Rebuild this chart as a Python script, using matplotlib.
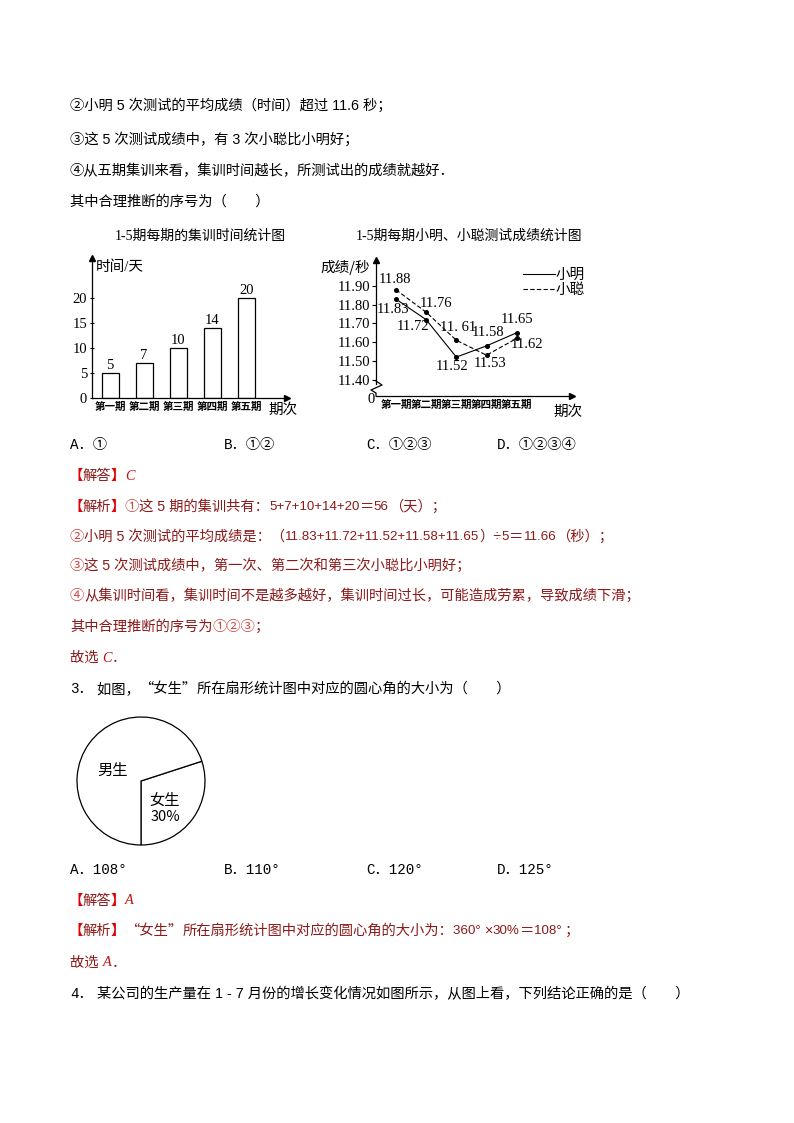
import matplotlib
matplotlib.use('Agg')
import matplotlib.pyplot as plt

# 数据
periods = ['第一期', '第二期', '第三期', '第四期', '第五期']
train_days = [5, 7, 10, 14, 20]
ming = [11.83, 11.72, 11.52, 11.58, 11.65]
cong = [11.88, 11.76, 11.61, 11.53, 11.62]
ming_text = ['11.83', '11.72', '11.52', '11.58', '11.65']
cong_text = ['11.88', '11.76', '11. 61', '11.53', '11.62']
score_ticks = [11.40, 11.50, 11.60, 11.70, 11.80, 11.90]
gender = ['女生', '男生']
share = [30, 70]

W, H = 794, 1123
fig = plt.figure(figsize=(W / 100, H / 100), dpi=100)
fig.patch.set_facecolor('white')
rend = fig.canvas.get_renderer()

CJK = ['Noto Sans CJK SC', 'DejaVu Sans']
MONO = ['Liberation Mono', 'Noto Sans CJK SC']
SANS = ['Liberation Sans', 'Noto Sans CJK SC']
SERIF = ['Liberation Serif', 'Noto Sans CJK SC']

BLACK = '#000000'
DARK = '#8B1A1A'
BRIGHT = '#E00000'
LIGHT = '#D04848'
ITAL = '#C01010'
FS = 10.3


def fx(x):
    return x / W


def fy(y):
    return 1 - y / H


def put(x, y, parts):
    # 一行里多段不同颜色的文字，依次排开
    for p in parts:
        s, color = p[0], p[1]
        kw = dict(family=SANS, fontsize=FS)
        if len(p) > 2:
            kw.update(p[2])
        t = fig.text(fx(x), fy(y), s, color=color, va='center', ha='left', **kw)
        x += t.get_window_extent(rend).width


BOLD = dict(fontweight='bold', family=CJK)
IT = dict(style='italic', family=['Liberation Serif'])
NUM = dict(family=SANS, fontsize=9.6)
MN = dict(family=MONO)
ZH = dict(family=CJK)


def head(word):
    return [('【', BRIGHT, BOLD), (word, DARK, ZH), ('】', BRIGHT, BOLD)]


# 题干
put(70, 106, [('②小明 5 次测试的平均成绩（时间）超过 11.6 秒；', BLACK)])
put(70, 140, [('③这 5 次测试成绩中，有 3 次小聪比小明好；', BLACK)])
put(70, 171, [('④从五期集训来看，集训时间越长，所测试出的成绩就越好．', BLACK)])
put(70, 202, [('其中合理推断的序号为（　　）', BLACK)])

# 条形图
ax1 = fig.add_axes([fx(92), fy(398), 195 / W, 140 / H])
bars = ax1.bar(range(len(train_days)), train_days, width=0.5, color='white',
               edgecolor='black', linewidth=0.9)
ax1.bar_label(bars, padding=1, fontsize=10.5, family=SERIF)
ax1.set_xlim(-0.53, 5.2)
ax1.set_ylim(0, 28)
ax1.set_yticks([0, 5, 10, 15, 20])
ax1.set_xticks(range(len(periods)))
ax1.set_xticklabels(periods, fontsize=7.6, fontweight='bold', family=CJK)
ax1.tick_params(axis='x', length=0, pad=3)
ax1.tick_params(axis='y', length=3, direction='inout', labelsize=10.5, pad=2)
for lb in ax1.get_yticklabels():
    lb.set_family(SERIF)
for s in ['top', 'right']:
    ax1.spines[s].set_visible(False)
for s in ['left', 'bottom']:
    ax1.spines[s].set_linewidth(0.9)
ax1.plot([1], [0], marker='>', ms=5, color='k', transform=ax1.transAxes, clip_on=False)
ax1.plot([0], [1], marker='^', ms=5, color='k', transform=ax1.transAxes, clip_on=False)
fig.text(fx(200), fy(236), '1-5期每期的集训时间统计图', ha='center', va='center',
         fontsize=10, family=SERIF)
fig.text(fx(96), fy(267), '时间/天', ha='left', va='center', fontsize=10.5, family=SERIF)
fig.text(fx(268), fy(410), '期次', ha='left', va='center', fontsize=10.5, family=CJK)

# 折线图
ax2 = fig.add_axes([fx(376), fy(396), 196 / W, 136 / H])
xs = range(len(ming))
l1, = ax2.plot(xs, ming, color='k', lw=0.8)
l2, = ax2.plot(xs, cong, color='k', lw=0.8, dashes=(4, 2))
ax2.plot(xs, ming, 'o', ms=2.6, color='k')
ax2.plot(xs, cong, 'o', ms=2.6, color='k')
ax2.set_xlim(-0.66, 5.83)
ax2.set_ylim(11.312, 12.039)
ax2.set_yticks(score_ticks)
ax2.set_yticklabels(['%.2f' % v for v in score_ticks], family=SERIF)
ax2.tick_params(axis='y', length=3, direction='out', labelsize=10.5, pad=1)
ax2.set_xticks(list(xs))
ax2.set_xticklabels(periods, fontsize=7.6, fontweight='bold', family=CJK)
ax2.tick_params(axis='x', length=0, pad=3)
for s in ['top', 'right']:
    ax2.spines[s].set_visible(False)
ax2.spines['left'].set_bounds(11.375, 12.039)
for s in ['left', 'bottom']:
    ax2.spines[s].set_linewidth(0.9)
ax2.plot([1], [0], marker='>', ms=5, color='k', transform=ax2.transAxes, clip_on=False)
ax2.plot([0], [1], marker='^', ms=5, color='k', transform=ax2.transAxes, clip_on=False)
zig_px = [(376, 381), (382, 385), (371, 390), (376, 393), (376, 396)]
ax2.plot([(p[0] - 376) / 196 for p in zig_px], [(396 - p[1]) / 136 for p in zig_px],
         color='k', lw=0.9, transform=ax2.transAxes, clip_on=False)

ming_off = [(-3, -10), (-13, -7), (-4, -9), (1, 13), (0, 13)]
cong_off = [(-1, 10), (10, 9), (2, 13), (4, -8), (10, -6)]
for i in xs:
    ax2.annotate(ming_text[i], (i, ming[i]), xytext=ming_off[i], textcoords='offset pixels',
                 ha='center', va='center', fontsize=10.5, family=SERIF)
    ax2.annotate(cong_text[i], (i, cong[i]), xytext=cong_off[i], textcoords='offset pixels',
                 ha='center', va='center', fontsize=10.5, family=SERIF)

ax2.legend([l1, l2], ['小明', '小聪'], frameon=False, loc='upper left',
           bbox_to_anchor=(fx(523), fy(268)), bbox_transform=fig.transFigure,
           borderpad=0, borderaxespad=0, handlelength=2.2, handletextpad=0.0,
           labelspacing=0.1, prop=dict(family=CJK, size=10.5))
fig.text(fx(469), fy(236), '1-5期每期小明、小聪测试成绩统计图', ha='center', va='center',
         fontsize=10, family=SERIF)
fig.text(fx(320), fy(267), '成绩/秒', ha='left', va='center', fontsize=10.5, family=CJK)
fig.text(fx(553), fy(412), '期次', ha='left', va='center', fontsize=10.5, family=CJK)
fig.text(fx(371), fy(400), '0', ha='center', va='center', fontsize=10.5, family=SERIF)

# 选项与解答
put(70, 445, [('A．①', BLACK, MN)])
put(224, 445, [('B．①②', BLACK, MN)])
put(366, 445, [('C．①②③', BLACK, MN)])
put(497, 445, [('D．①②③④', BLACK, MN)])

put(68, 476, head('解答') + [('C', ITAL, IT)])
put(68, 507, head('解析') + [('①', LIGHT),
                            ('这 5 期的集训共有：', DARK),
                            ('5+7+10+14+20', DARK, NUM),
                            ('＝', DARK), ('56', DARK, NUM),
                            ('（天）；', DARK)])
put(70, 537, [('②', LIGHT), ('小明 5 次测试的平均成绩是：（', DARK),
              ('11.83+11.72+11.52+11.58+11.65', DARK, NUM),
              ('）÷', DARK), ('5', DARK, NUM), ('＝', DARK), ('11.66', DARK, NUM),
              ('（秒）；', DARK)])
put(70, 566, [('③', LIGHT), ('这 5 次测试成绩中，第一次、第二次和第三次小聪比小明好；', DARK)])
put(70, 596, [('④', LIGHT), ('从集训时间看，集训时间不是越多越好，集训时间过长，可能造成劳累，导致成绩下滑；', DARK)])
put(70, 627, [('其中合理推断的序号为', DARK), ('①②③', LIGHT), ('；', DARK)])
put(70, 658, [('故选 ', DARK), ('C', ITAL, IT), ('．', DARK)])
put(70, 689, [('3．', BLACK, MN), (' 如图，', BLACK), ('“女生”', BLACK, ZH),
              ('所在扇形统计图中对应的圆心角的大小为（　　）', BLACK)])

# 扇形图
R = 66
ax3 = fig.add_axes([fx(141 - R), fy(781 + R), 2 * R / W, 2 * R / H])
ax3.pie(share, startangle=-90, colors=['white', 'white'],
        wedgeprops=dict(edgecolor='k', linewidth=0.9))
lim = R / 64
ax3.set_xlim(-lim, lim)
ax3.set_ylim(-lim, lim)
ax3.text(-0.45, 0.17, gender[1], ha='center', va='center', fontsize=11, family=CJK)
ax3.text(0.375, -0.30, gender[0], ha='center', va='center', fontsize=11, family=CJK)
ax3.text(0.375, -0.56, '%d%%' % share[0], ha='center', va='center', fontsize=10.5, family=CJK)

put(70, 870, [('A．108°', BLACK, MN)])
put(224, 870, [('B．110°', BLACK, MN)])
put(366, 870, [('C．120°', BLACK, MN)])
put(497, 870, [('D．125°', BLACK, MN)])
put(68, 901, head('解答') + [('A', ITAL, IT)])
put(68, 931, head('解析') + [('“女生”', DARK, ZH), ('所在扇形统计图中对应的圆心角的大小为：', DARK),
                            ('360° ', DARK, NUM), ('×', DARK), ('30%', DARK, NUM),
                            ('＝', DARK), ('108° ', DARK, NUM), ('；', DARK)])
put(70, 963, [('故选 ', DARK), ('A', ITAL, IT), ('．', DARK)])
put(70, 994, [('4．', BLACK, MN), (' 某公司的生产量在 1 - 7 月份的增长变化情况如图所示，从图上看，下列结论正确的是（　　）', BLACK)])

fig.savefig('out.png', dpi=100, facecolor='white')
